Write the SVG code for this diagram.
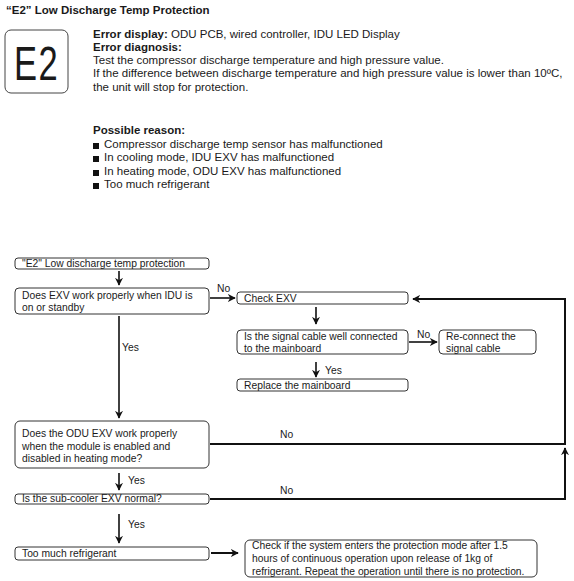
<svg xmlns="http://www.w3.org/2000/svg" width="574" height="581" viewBox="0 0 574 581">
<defs>
<style>
text{font-family:"Liberation Sans",Arial,sans-serif;fill:#1a1a1a}
.h{font-size:11.5px}
.b{font-weight:bold}
.t{font-size:10.3px}
.box{fill:#fff;stroke:#333;stroke-width:1}
.ln{fill:none;stroke:#111;stroke-width:1.6}
.tk{fill:none;stroke:#111;stroke-width:2}
</style>
<marker id="ah2" viewBox="0 0 10 10" refX="9" refY="5" markerWidth="8" markerHeight="8" orient="auto" markerUnits="userSpaceOnUse">
<path d="M0,0 L10,5 L0,10 L3,5 Z" fill="#111"/>
</marker>
</defs>
<rect width="574" height="581" fill="#fff"/>

<g id="header">
<text x="6" y="14" class="h b">“E2” Low Discharge Temp Protection</text>
<rect x="5" y="30" width="63" height="63" rx="6" fill="#fff" stroke="#444" stroke-width="1"/>
<text x="0" y="0" transform="translate(36.5,80) scale(0.72,1)" text-anchor="middle" font-size="48" fill="#111" letter-spacing="2">E2</text>
<text x="93" y="38" class="h"><tspan class="b">Error display:</tspan> ODU PCB, wired controller, IDU LED Display</text>
<text x="93" y="51" class="h b">Error diagnosis:</text>
<text x="93" y="64" class="h">Test the compressor discharge temperature and high pressure value.</text>
<text x="93" y="77" class="h">If the difference between discharge temperature and high pressure value is lower than 10ºC,</text>
<text x="93" y="91" class="h">the unit will stop for protection.</text>
<text x="93" y="134" class="h b">Possible reason:</text>
<rect x="93" y="143" width="6" height="6" fill="#111"/>
<text x="104" y="148" class="h">Compressor discharge temp sensor has malfunctioned</text>
<rect x="93" y="156" width="6" height="6" fill="#111"/>
<text x="104" y="161" class="h">In cooling mode, IDU EXV has malfunctioned</text>
<rect x="93" y="170" width="6" height="6" fill="#111"/>
<text x="104" y="175" class="h">In heating mode, ODU EXV has malfunctioned</text>
<rect x="93" y="183" width="6" height="6" fill="#111"/>
<text x="104" y="188" class="h">Too much refrigerant</text>
</g>

<g id="connectors">
<line x1="119" y1="271" x2="119" y2="285" class="ln" marker-end="url(#ah2)"/>
<line x1="210" y1="298" x2="235" y2="298" class="ln" marker-end="url(#ah2)"/>
<text x="217" y="292" class="t">No</text>
<line x1="316" y1="307" x2="316" y2="324" class="ln" marker-end="url(#ah2)"/>
<line x1="409" y1="342" x2="437" y2="342" class="ln" marker-end="url(#ah2)"/>
<text x="417" y="338" class="t">No</text>
<line x1="316" y1="362" x2="316" y2="377" class="ln" marker-end="url(#ah2)"/>
<text x="325" y="374" class="t">Yes</text>
<line x1="119" y1="316" x2="119" y2="418" class="ln" marker-end="url(#ah2)"/>
<text x="122" y="351" class="t">Yes</text>
<polyline points="210,444 565,444 565,299 413,299" class="tk" marker-end="url(#ah2)"/>
<text x="280" y="438" class="t">No</text>
<line x1="119" y1="473" x2="119" y2="490" class="ln" marker-end="url(#ah2)"/>
<text x="128" y="484" class="t">Yes</text>
<polyline points="210,499 565,499 565,448" class="tk" marker-end="url(#ah2)"/>
<text x="280" y="494" class="t">No</text>
<line x1="119" y1="514" x2="119" y2="543" class="ln" marker-end="url(#ah2)"/>
<text x="128" y="528" class="t">Yes</text>
<line x1="211" y1="553" x2="238" y2="553" class="tk" marker-end="url(#ah2)"/>
</g>

<g id="n1"><rect x="15" y="258" width="194" height="11" rx="3" class="box"/>
<text x="22" y="267" class="t">"E2" Low discharge temp protection</text></g>

<g id="n2"><rect x="15" y="288" width="194" height="26" rx="4" class="box"/>
<text x="22" y="299" class="t">Does EXV work properly when IDU is</text>
<text x="22" y="311" class="t">on or standby</text></g>

<g id="n3"><rect x="237" y="292" width="171" height="12" rx="3" class="box"/>
<text x="244" y="302" class="t">Check EXV</text></g>

<g id="n4"><rect x="237" y="330" width="171" height="24" rx="4" class="box"/>
<text x="244" y="340" class="t">Is the signal cable well connected</text>
<text x="244" y="352" class="t">to the mainboard</text></g>

<g id="n5"><rect x="439" y="330" width="97" height="24" rx="4" class="box"/>
<text x="446" y="340" class="t">Re-connect the</text>
<text x="446" y="352" class="t">signal cable</text></g>

<g id="n6"><rect x="237" y="379" width="171" height="12" rx="3" class="box"/>
<text x="244" y="389" class="t">Replace the mainboard</text></g>

<g id="n7"><rect x="15" y="421" width="194" height="47" rx="5" class="box"/>
<text x="22" y="437" class="t">Does the ODU EXV work properly</text>
<text x="22" y="450" class="t">when the module is enabled and</text>
<text x="22" y="462" class="t">disabled in heating mode?</text></g>

<g id="n8"><rect x="15" y="494" width="194" height="10" rx="3" class="box"/>
<text x="22" y="502" class="t">Is the sub-cooler EXV normal?</text></g>

<g id="n9"><rect x="15" y="547" width="194" height="13" rx="3" class="box"/>
<text x="22" y="557" class="t">Too much refrigerant</text></g>

<g id="n10"><rect x="245" y="540" width="292" height="37" rx="5" class="box"/>
<text x="252" y="549" class="t">Check if the system enters the protection mode after 1.5</text>
<text x="252" y="562" class="t">hours of continuous operation upon release of 1kg of</text>
<text x="252" y="575" class="t">refrigerant. Repeat the operation until there is no protection.</text></g>
</svg>
